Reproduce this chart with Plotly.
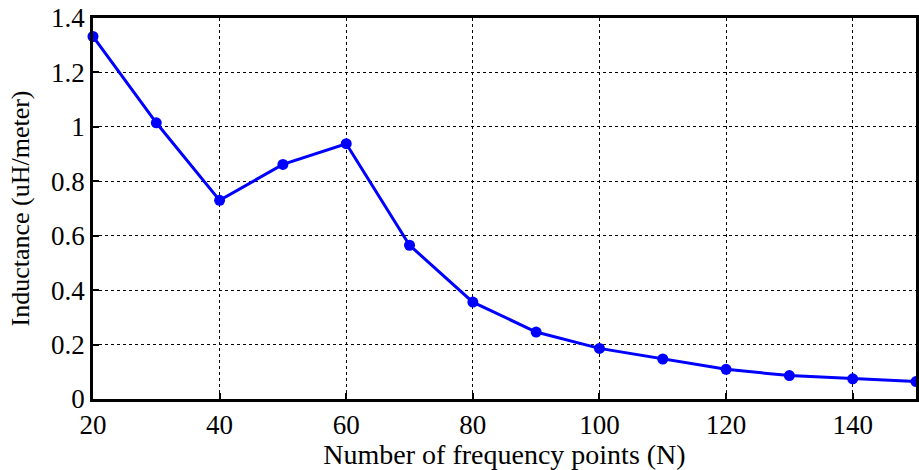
import plotly.graph_objects as go

n_points = [20, 30, 40, 50, 60, 70, 80, 90, 100, 110, 120, 130, 140, 150]
inductance = [1.332, 1.015, 0.73, 0.862, 0.938, 0.565, 0.356, 0.246, 0.186, 0.147, 0.109, 0.086, 0.074, 0.064]
x_ticks = [20, 40, 60, 80, 100, 120, 140]
y_ticks = [0, 0.2, 0.4, 0.6, 0.8, 1, 1.2, 1.4]
y_tick_labels = ["0", "0.2", "0.4", "0.6", "0.8", "1", "1.2", "1.4"]

fig = go.Figure()
fig.add_trace(go.Scatter(
    x=n_points, y=inductance, mode="lines+markers",
    line=dict(color="#0000ff", width=3),
    marker=dict(color="#0000ff", size=11),
    cliponaxis=False,
))

font = dict(family="Liberation Serif", color="black")
axis_common = dict(
    showline=True, linecolor="black", linewidth=2.5, mirror=True,
    showgrid=True, gridcolor="black", griddash="dot", gridwidth=1,
    ticks="inside", ticklen=6, tickcolor="black", tickwidth=1.5,
    zeroline=False, tickfont=dict(size=27, **font),
)
fig.update_layout(
    width=919, height=470,
    margin=dict(l=93, r=0, t=18, b=71),
    paper_bgcolor="white", plot_bgcolor="white",
    showlegend=False,
    xaxis=dict(range=[20, 150], tickvals=x_ticks,
               title=dict(text="Number of frequency points (N)", font=dict(size=28, **font), standoff=2),
               ticklabelstandoff=0,
               **axis_common),
    yaxis=dict(range=[0, 1.4], tickvals=y_ticks, ticktext=y_tick_labels,
               title=dict(text="Inductance (uH/meter)", font=dict(size=26, **font), standoff=14),
               **axis_common),
)
fig.write_html("out.html")
